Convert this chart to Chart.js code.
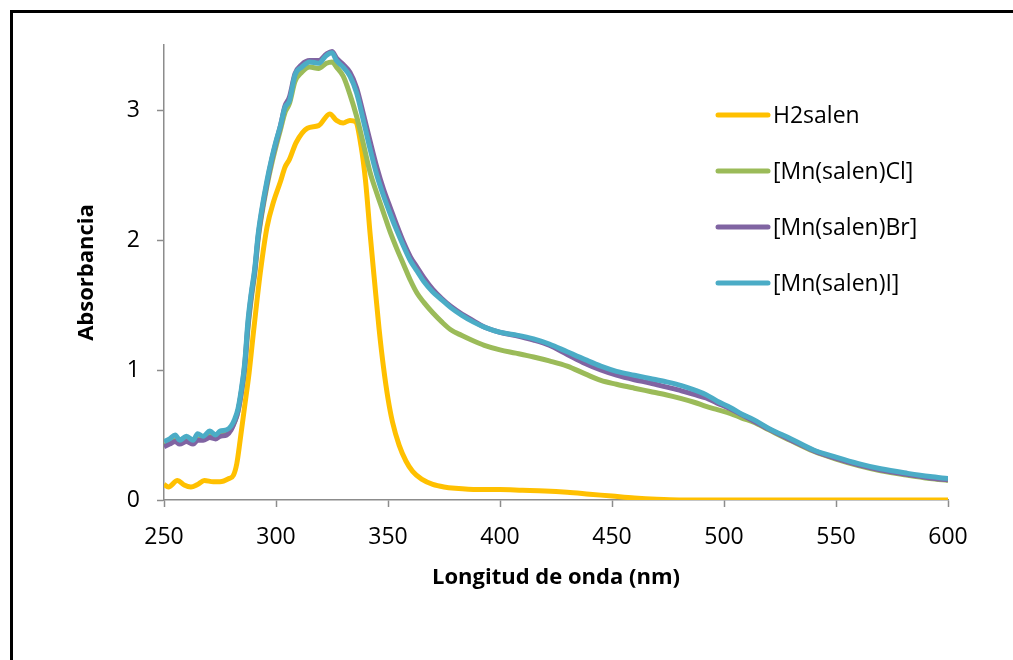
<!DOCTYPE html>
<html><head><meta charset="utf-8">
<script src="https://cdn.jsdelivr.net/npm/chart.js@4/dist/chart.umd.min.js"></script>
<style>
html,body{margin:0;padding:0;background:#fff;overflow:hidden;width:1013px;height:660px}
#frame{position:absolute;left:10px;top:10px;width:1100px;height:800px;border:3px solid #000;}
#wrap{position:absolute;left:0;top:0;width:1013px;height:660px}
</style></head>
<body>
<div id="frame"></div>
<div id="wrap"><canvas id="c" width="1013" height="660"></canvas></div>
<script>
const seriesNames = ['H2salen', '[Mn(salen)Cl]', '[Mn(salen)Br]', '[Mn(salen)I]'];
const seriesColors = ['#FFC000', '#9BBB59', '#8064A2', '#4BACC6'];
const xTitle = 'Longitud de onda (nm)';
const yTitle = 'Absorbancia';

const wlH2 = [250,252,256,259,262,265,268,272,275,279,281,282.5,284,286,288,290,293,296,299,302,304,306,309,314,319,324,327,330,333,335.5,338,340,342,344,346,348,350,352,355,358,361,365,370,375,380,390,400,410,420,430,440,450,460,470,480,500,550,600];
const absH2 = [0.12,0.10,0.15,0.115,0.10,0.12,0.15,0.14,0.14,0.165,0.19,0.28,0.46,0.72,0.98,1.30,1.75,2.10,2.30,2.45,2.56,2.62,2.75,2.86,2.88,2.97,2.92,2.90,2.92,2.91,2.72,2.45,2.05,1.68,1.32,1.02,0.78,0.60,0.42,0.30,0.22,0.16,0.12,0.10,0.09,0.08,0.08,0.075,0.07,0.06,0.045,0.03,0.015,0.005,0,0,0,0];

const wlMn = [250,252.5,255,257,260,263,265,267.5,270.5,273,275,278,280,281.5,283,284.5,286,287.5,289,290.5,292,293.5,296,298,300,302,304,306,308.5,311.5,315,319,322.5,325,327,330,333,336,339,342,345,348,351,354,357,360,363,366,370,374,378,383,388,393,400,407,415,422,430,438,445,452,460,467,474,481,487,492,497,503,508,513,520,530,540,550,560,570,582,592,600];
const absCl = [0.42,0.44,0.46,0.44,0.46,0.44,0.47,0.47,0.49,0.48,0.50,0.51,0.55,0.60,0.68,0.82,1.00,1.32,1.55,1.74,2.00,2.18,2.42,2.58,2.72,2.85,2.98,3.05,3.22,3.29,3.33,3.32,3.36,3.37,3.33,3.26,3.12,2.95,2.74,2.52,2.36,2.21,2.06,1.93,1.81,1.69,1.59,1.52,1.44,1.37,1.31,1.265,1.225,1.19,1.155,1.13,1.10,1.07,1.03,0.97,0.92,0.89,0.86,0.835,0.81,0.78,0.75,0.72,0.695,0.665,0.63,0.60,0.54,0.455,0.375,0.315,0.265,0.225,0.19,0.165,0.15];
const absBr = [0.41,0.43,0.45,0.43,0.45,0.43,0.46,0.46,0.48,0.47,0.49,0.50,0.54,0.60,0.68,0.83,1.03,1.35,1.58,1.76,2.02,2.20,2.44,2.61,2.75,2.88,3.03,3.10,3.28,3.35,3.38,3.38,3.43,3.45,3.40,3.35,3.29,3.17,2.97,2.76,2.56,2.39,2.25,2.11,1.98,1.87,1.79,1.71,1.62,1.55,1.49,1.43,1.38,1.33,1.29,1.265,1.23,1.19,1.12,1.05,1.00,0.96,0.925,0.90,0.87,0.84,0.81,0.785,0.745,0.70,0.655,0.61,0.545,0.46,0.38,0.32,0.27,0.23,0.195,0.17,0.155];
const absI = [0.45,0.47,0.50,0.46,0.49,0.46,0.51,0.49,0.53,0.50,0.53,0.54,0.57,0.62,0.70,0.85,1.05,1.38,1.60,1.78,2.04,2.22,2.46,2.62,2.76,2.88,3.02,3.07,3.27,3.33,3.37,3.36,3.42,3.44,3.38,3.33,3.26,3.13,2.92,2.70,2.50,2.34,2.20,2.07,1.95,1.84,1.76,1.68,1.60,1.54,1.48,1.42,1.37,1.33,1.29,1.27,1.24,1.20,1.14,1.08,1.03,0.99,0.96,0.935,0.91,0.88,0.845,0.81,0.76,0.71,0.66,0.62,0.55,0.47,0.385,0.33,0.28,0.24,0.205,0.18,0.165];

const xTicks = [250,300,350,400,450,500,550,600];
const yTicks = [0,1,2,3];

function pts(xs, ys){ return xs.map((x,i)=>({x:x, y:ys[i]})); }
const allX = [wlH2, wlMn, wlMn, wlMn];
const allY = [absH2, absCl, absBr, absI];

const datasets = seriesNames.map((n,i)=>({
  label: n,
  data: pts(allX[i], allY[i]),
  borderColor: seriesColors[i],
  backgroundColor: seriesColors[i],
  borderWidth: 5,
  pointRadius: 0,
  cubicInterpolationMode: 'monotone',
  borderJoinStyle: 'round',
  order: seriesNames.length - i
}));

const axisGray = '#8c8c8c';
const FONT = "'Open Sans', 'Liberation Sans', sans-serif";

const legendPlugin = {
  id: 'customLegend',
  afterDraw(chart){
    const ctx = chart.ctx;
    ctx.save();
    const x0 = 716, x1 = 770, y0 = 115, dy = 56;
    chart.data.datasets.forEach((ds, i)=>{
      const y = y0 + i*dy;
      ctx.strokeStyle = ds.borderColor;
      ctx.lineWidth = 5;
      ctx.lineCap = 'round';
      ctx.beginPath(); ctx.moveTo(x0+2, y); ctx.lineTo(x1-2, y); ctx.stroke();
      ctx.fillStyle = '#000';
      ctx.font = "23px " + FONT;
      ctx.textBaseline = 'middle';
      ctx.textAlign = 'left';
      ctx.fillText(ds.label, x1 + 3, y + 1);
    });
    ctx.restore();
  }
};

new Chart(document.getElementById('c'), {
  type: 'line',
  data: { datasets },
  options: {
    responsive: false,
    animation: false,
    layout: { padding: { top: 45, right: 65, left: 0, bottom: 0 } },
    plugins: { legend: { display: false }, tooltip: { enabled: false } },
    scales: {
      x: {
        type: 'linear', min: 250, max: 600,
        afterFit(s){ s.height = 160; },
        afterBuildTicks(s){ s.ticks = xTicks.map(v=>({value:v})); },
        ticks: { stepSize: 50, color: '#000', font: { family: FONT, size: 23 }, padding: 17, maxRotation: 0 },
        grid: { drawOnChartArea: false, drawTicks: true, tickLength: 7, tickColor: axisGray, tickWidth: 1.5 },
        border: { display: true, color: axisGray, width: 1.5 },
        title: { display: true, text: xTitle, color: '#000', font: { family: FONT, size: 22, weight: 'bold' }, padding: { top: 0, bottom: 69 } }
      },
      y: {
        type: 'linear', min: 0, max: 3.5,
        afterFit(s){ s.width = 164; },
        afterBuildTicks(s){ s.ticks = yTicks.map(v=>({value:v})); },
        ticks: { stepSize: 1, color: '#000', font: { family: FONT, size: 23 }, padding: 17 },
        grid: { drawOnChartArea: false, drawTicks: true, tickLength: 7, tickColor: axisGray, tickWidth: 1.5 },
        border: { display: true, color: axisGray, width: 1.5 },
        title: { display: true, text: yTitle, color: '#000', font: { family: FONT, size: 22, weight: 'bold' }, padding: { top: 74, bottom: 0 } }
      }
    }
  },
  plugins: [legendPlugin]
});
</script>
</body></html>
